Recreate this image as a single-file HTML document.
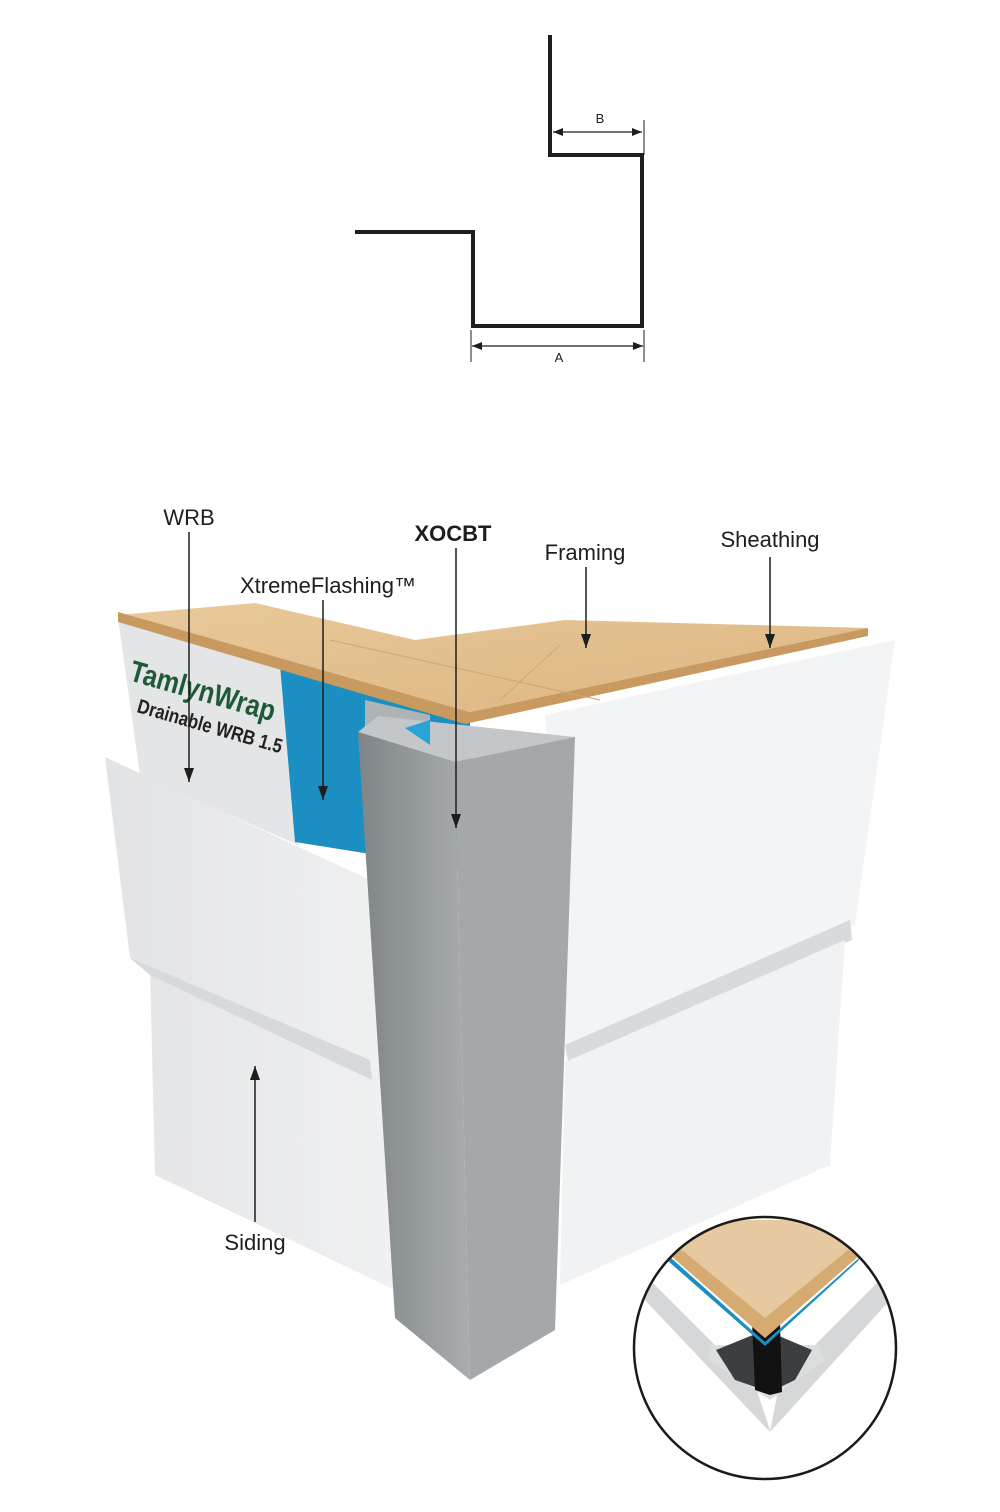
<!DOCTYPE html>
<html><head><meta charset="utf-8"><style>
html,body{margin:0;padding:0;background:#fff;}
svg{display:block}
text{font-family:"Liberation Sans",sans-serif;fill:#1e1e1e}
</style></head><body>
<svg width="1000" height="1512" viewBox="0 0 1000 1512" xmlns="http://www.w3.org/2000/svg">
<defs>
<marker id="ah" markerWidth="14" markerHeight="10" refX="14" refY="5" orient="auto" markerUnits="userSpaceOnUse"><path d="M0,0 L14,5 L0,10 z" fill="#1e1e1e"/></marker>
<marker id="sa" markerWidth="10" markerHeight="8" refX="10" refY="4" orient="auto-start-reverse" markerUnits="userSpaceOnUse"><path d="M0,0 L10,4 L0,8 z" fill="#1e1e1e"/></marker>
<linearGradient id="wood" x1="0" y1="0" x2="1" y2="1"><stop offset="0" stop-color="#e9c99a"/><stop offset="1" stop-color="#dcb582"/></linearGradient>
<linearGradient id="lsid" x1="0" y1="0" x2="1" y2="0"><stop offset="0" stop-color="#e2e3e5"/><stop offset="1" stop-color="#f0f1f2"/></linearGradient>
<linearGradient id="post" x1="0" y1="0" x2="1" y2="0"><stop offset="0" stop-color="#7f8587"/><stop offset="1" stop-color="#a9adaf"/></linearGradient>
<clipPath id="cc"><circle cx="765" cy="1348" r="130"/></clipPath>
</defs>

<!-- profile -->
<polyline points="550,35 550,155 642,155 642,326 473,326 473,232 355,232" fill="none" stroke="#1e1e1e" stroke-width="4"/>
<line x1="644" y1="120" x2="644" y2="155" stroke="#1e1e1e" stroke-width="1"/>
<line x1="553" y1="132" x2="642" y2="132" stroke="#1e1e1e" stroke-width="1.2" marker-start="url(#sa)" marker-end="url(#sa)"/>
<text x="600" y="123" font-size="13" text-anchor="middle">B</text>
<line x1="471" y1="330" x2="471" y2="362" stroke="#1e1e1e" stroke-width="1"/>
<line x1="644" y1="330" x2="644" y2="362" stroke="#1e1e1e" stroke-width="1"/>
<line x1="472" y1="346" x2="643" y2="346" stroke="#1e1e1e" stroke-width="1.2" marker-start="url(#sa)" marker-end="url(#sa)"/>
<text x="559" y="362" font-size="13" text-anchor="middle">A</text>

<!-- right siding -->
<polygon points="545,715 895,640 855,925 565,1045" fill="#f3f4f5"/>
<polygon points="565,1045 850,920 852,940 568,1062" fill="#d8dadc"/>
<polygon points="565,1062 845,940 830,1165 560,1285" fill="#f1f2f3"/>
<!-- WRB face -->
<polygon points="118,618 290,668 298,845 140,775" fill="#e4e5e6"/>
<text x="128" y="680" font-size="30" font-weight="bold" style="fill:#1f5a36" textLength="150" lengthAdjust="spacingAndGlyphs" transform="rotate(16 128 680)">TamlynWrap</text>
<text x="136" y="712" font-size="20" font-weight="bold" style="fill:#222" textLength="150" lengthAdjust="spacingAndGlyphs" transform="rotate(16 136 712)">Drainable WRB 1.5</text>
<!-- blue flashing -->
<polygon points="280,665 470,718 470,870 295,842" fill="#1b8fc2"/>
<polygon points="365,700 430,715 430,735 365,730" fill="#aeb3b5"/>
<!-- wood -->
<polygon points="118,615 255,603 415,640 565,620 868,628 470,712 118,612" fill="url(#wood)"/>
<polygon points="118,612 470,712 868,628 868,636 465,724 118,622" fill="#c99a5f"/>
<line x1="330" y1="640" x2="600" y2="700" stroke="#cfa774" stroke-width="1"/>
<line x1="560" y1="645" x2="500" y2="700" stroke="#cfa774" stroke-width="1"/>
<!-- left siding -->
<polygon points="105,757 370,880 395,1290 155,1175 150,968 130,958" fill="url(#lsid)"/>
<polygon points="130,958 370,1060 372,1080 150,975" fill="#d8d9db"/>
<!-- post -->
<polygon points="358,732 378,716 575,737 455,762" fill="#c3c7c9"/>
<polygon points="405,728 430,720 430,745" fill="#2aa3d6"/>
<polygon points="358,732 455,762 470,1380 395,1318" fill="url(#post)"/>
<polygon points="455,762 575,737 555,1330 470,1380" fill="#a4a8aa"/>

<!-- labels & arrows -->
<g stroke="#1e1e1e" stroke-width="1.5">
<line x1="189" y1="532" x2="189" y2="782" marker-end="url(#ah)"/>
<line x1="323" y1="600" x2="323" y2="800" marker-end="url(#ah)"/>
<line x1="456" y1="548" x2="456" y2="828" marker-end="url(#ah)"/>
<line x1="586" y1="567" x2="586" y2="648" marker-end="url(#ah)"/>
<line x1="770" y1="557" x2="770" y2="648" marker-end="url(#ah)"/>
<line x1="255" y1="1222" x2="255" y2="1066" marker-end="url(#ah)"/>
</g>
<text x="189" y="525" font-size="22" text-anchor="middle">WRB</text>
<text x="328" y="593" font-size="22" text-anchor="middle">XtremeFlashing™</text>
<text x="453" y="541" font-size="22" font-weight="bold" text-anchor="middle">XOCBT</text>
<text x="585" y="560" font-size="22" text-anchor="middle">Framing</text>
<text x="770" y="547" font-size="22" text-anchor="middle">Sheathing</text>
<text x="255" y="1250" font-size="22" text-anchor="middle">Siding</text>

<!-- inset circle -->
<circle cx="765" cy="1348" r="131" fill="#fff"/>
<g clip-path="url(#cc)">
<polygon points="650,1280 755,1385 770,1430 770,1432 640,1295" fill="#d6d7d8"/>
<polygon points="880,1280 780,1380 770,1432 890,1300" fill="#d6d7d8"/>
<polygon points="712,1345 818,1345 825,1360 770,1400 708,1360" fill="#dcdddd"/>
<polygon points="716,1350 765,1330 812,1350 795,1380 770,1392 735,1380" fill="#3b3f41"/>
<polygon points="752,1322 780,1322 782,1392 770,1395 755,1390" fill="#111"/>
<polygon points="670,1255 690,1220 845,1220 860,1255 765,1338" fill="#e6c9a0"/>
<polygon points="670,1255 765,1338 860,1255 848,1250 765,1318 682,1250" fill="#d5ab72"/>
<polygon points="670,1257 765,1342 860,1257 858,1261 765,1346 668,1261" fill="#1b8fc2"/>
</g>
<circle cx="765" cy="1348" r="131" fill="none" stroke="#1a1a1a" stroke-width="2.5"/>
</svg>
</body></html>
